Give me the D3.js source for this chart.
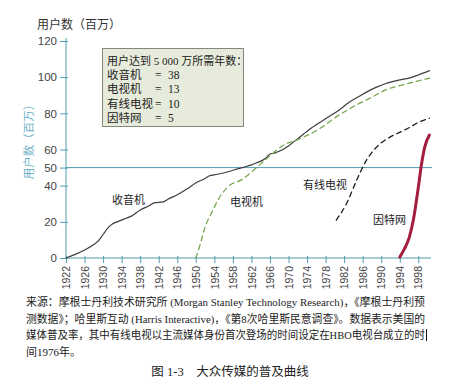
<!DOCTYPE html>
<html>
<head>
<meta charset="utf-8">
<script src="https://cdn.jsdelivr.net/npm/d3@7"></script>
<style>
  body { margin: 0; background: #fff; }
  svg { display: block; }
</style>
</head>
<body>
<svg id="chart" width="455" height="391"></svg>
<script>
// data (users, millions)
var radioYears  = [1922, 1924, 1926, 1928, 1929, 1930, 1931, 1932, 1933, 1935, 1936, 1938, 1940, 1941, 1943, 1944, 1946, 1948, 1950, 1952, 1953, 1954, 1956, 1958, 1960, 1962, 1963, 1965, 1966, 1967, 1968, 1970, 1972, 1975, 1978, 1981, 1983, 1985, 1987, 1989, 1991, 1994, 1996, 1998, 2000.4];
var radioValues = [0, 2, 4.4, 7.5, 9.5, 13, 16.5, 18.8, 20, 22, 23, 26.5, 29, 30.5, 31, 32.5, 35, 38, 41.5, 44, 45.5, 46, 47, 48.5, 50, 51.5, 52.5, 55, 57.5, 58, 59, 62, 66, 72, 77, 82, 86, 89, 92, 94.5, 96.5, 98.5, 99.5, 101.2, 103.6];

var tvYears  = [1950, 1951, 1952, 1953.5, 1955, 1957, 1960, 1962, 1964, 1966, 1969, 1972, 1977, 1980, 1984, 1988, 1991, 1995, 1998, 2000.4];
var tvValues = [0, 8, 17, 25.5, 33, 39.5, 43.5, 47.5, 52, 56.5, 62.5, 65.5, 72, 77.5, 83.7, 89, 93, 96, 98, 99.4];

var cableYears  = [1980.3, 1982.5, 1984.7, 1986.8, 1989.7, 1992, 1994, 1996, 1998, 2000.4];
var cableValues = [21, 30, 43, 54, 63, 67, 69.5, 72, 75, 77.3];

var netYears  = [1994, 1995, 1996, 1997, 1998, 1998.7, 1999.4, 2000.4];
var netValues = [0.5, 5, 11, 22, 39, 52, 61.5, 68];

var xTicks = d3.range(1922, 1999, 4);
var yTicks = [0, 20, 40, 50, 60, 80, 100, 120];

var legendTitle = "用户达到 5 000 万所需年数：";
var legendNames = ["收音机", "电视机", "有线电视", "因特网"];
var legendYears = [38, 13, 10, 5];

var captionLines = [
    "来源：摩根士丹利技术研究所 (Morgan Stanley Technology Research)，《摩根士丹利预",
    "测数据》；哈里斯互动 (Harris Interactive)，《第8次哈里斯民意调查》。数据表示美国的",
    "媒体普及率，其中有线电视以主流媒体身份首次登场的时间设定在HBO电视台成立的时",
    "间1976年。"
];
var figTitle = "图 1-3　大众传媒的普及曲线";

var svg = d3.select('#chart');
var sans = 'Arial, "Liberation Sans", "Noto Sans CJK SC", sans-serif';
var serif = '"Liberation Serif", "Noto Sans CJK SC", serif';
var axisColor = '#4f9db3';

var xScale = d3.scaleLinear().domain([1922, 1998]).range([66, 418.3]);
var yScale = d3.scaleLinear().domain([0, 120]).range([258, 41]);

// axes
var yAxisG = svg.append('g')
    .attr('transform', 'translate(66,0)')
    .call(d3.axisLeft(yScale).tickValues(yTicks).tickSize(6).tickPadding(3));
var xAxisG = svg.append('g')
    .attr('transform', 'translate(0,258)')
    .call(d3.axisBottom(xScale).tickValues(xTicks).tickFormat(d3.format('d')).tickSize(5));

yAxisG.select('.domain').attr('d', 'M0,258V38').attr('stroke', axisColor);
xAxisG.select('.domain').attr('d', 'M66,0H431').attr('stroke', axisColor);
yAxisG.selectAll('.tick line').attr('stroke', axisColor).attr('x1', 2);
xAxisG.selectAll('.tick line').attr('stroke', axisColor).attr('y1', -2);

yAxisG.selectAll('.tick text')
    .style('font-family', sans).style('font-size', '11.5px').attr('fill', '#444');
xAxisG.selectAll('.tick text')
    .style('font-family', sans).style('font-size', '10.5px').attr('fill', '#444')
    .attr('text-anchor', 'end')
    .attr('transform', 'rotate(-90)')
    .attr('x', -8).attr('y', 0).attr('dy', '0.35em');

// 50 million line
svg.append('line')
    .attr('x1', 66).attr('x2', 432)
    .attr('y1', yScale(50)).attr('y2', yScale(50))
    .attr('stroke', axisColor).attr('stroke-width', 1);

// axis titles
svg.append('text')
    .attr('x', 37).attr('y', 29)
    .style('font-family', sans).style('font-size', '12px').attr('fill', '#333')
    .text('用户数（百万）');
svg.append('text')
    .attr('transform', 'translate(33,139) rotate(-90)')
    .attr('text-anchor', 'middle')
    .style('font-family', sans).style('font-size', '11.5px').attr('fill', '#6fb3c9')
    .text('用户数（百万）');

// lines
function drawLine(years, values, color, width, dash) {
    var pts = years.map(function(y, i) { return [y, values[i]]; });
    var line = d3.line()
        .x(function(d) { return xScale(d[0]); })
        .y(function(d) { return yScale(d[1]); })
        .curve(d3.curveMonotoneX);
    svg.append('path')
        .datum(pts)
        .attr('d', line)
        .attr('fill', 'none')
        .attr('stroke', color)
        .attr('stroke-width', width)
        .attr('stroke-dasharray', dash || null)
        .attr('stroke-linecap', 'round');
}
drawLine(radioYears, radioValues, '#3d3d3d', 1.2);
drawLine(tvYears, tvValues, '#79a74f', 1.3, '5,4');
drawLine(cableYears, cableValues, '#1e1e1e', 1.3, '5,4');
drawLine(netYears, netValues, '#a51d3c', 3);

// series labels
var seriesLabels = [
    {t: legendNames[0], x: 112, y: 204},
    {t: legendNames[1], x: 230, y: 206},
    {t: legendNames[2], x: 303, y: 189},
    {t: legendNames[3], x: 373, y: 224}
];
svg.selectAll('.slabel').data(seriesLabels).enter().append('text')
    .attr('class', 'slabel')
    .attr('x', function(d) { return d.x; })
    .attr('y', function(d) { return d.y; })
    .style('font-family', sans).style('font-size', '11px').attr('fill', '#222')
    .text(function(d) { return d.t; });

// legend box
var lg = svg.append('g');
lg.append('rect')
    .attr('x', 102.5).attr('y', 48.5).attr('width', 141).attr('height', 78)
    .attr('fill', '#e7ebdb').attr('stroke', '#85877c').attr('stroke-width', 1);
lg.append('text')
    .attr('x', 107).attr('y', 65)
    .style('font-family', serif).style('font-size', '11px').attr('fill', '#222')
    .text(legendTitle);
legendNames.forEach(function(n, i) {
    var yy = 79 + i * 14.3;
    lg.append('text').attr('x', 107).attr('y', yy)
        .style('font-family', serif).style('font-size', '11.5px').attr('fill', '#222').text(n);
    lg.append('text').attr('x', 155).attr('y', yy)
        .style('font-family', serif).style('font-size', '11.5px').attr('fill', '#222').text('=');
    lg.append('text').attr('x', 168).attr('y', yy)
        .style('font-family', serif).style('font-size', '11.5px').attr('fill', '#222').text(legendYears[i]);
});

// caption
captionLines.forEach(function(l, i) {
    var t = svg.append('text')
        .attr('x', 26).attr('y', 306 + i * 16.5)
        .style('font-family', serif).style('font-size', '11px').attr('fill', '#222')
        .text(l);
    if (i < captionLines.length - 1) {
        t.attr('textLength', 399).attr('lengthAdjust', 'spacingAndGlyphs');
    }
});
// text cursor mark seen at end of third caption line
svg.append('line')
    .attr('x1', 426.5).attr('x2', 426.5).attr('y1', 329).attr('y2', 341)
    .attr('stroke', '#111').attr('stroke-width', 1);
svg.append('text')
    .attr('x', 230).attr('y', 376)
    .attr('text-anchor', 'middle')
    .style('font-family', serif).style('font-size', '12.5px').attr('fill', '#222')
    .text(figTitle);
</script>
</body>
</html>
